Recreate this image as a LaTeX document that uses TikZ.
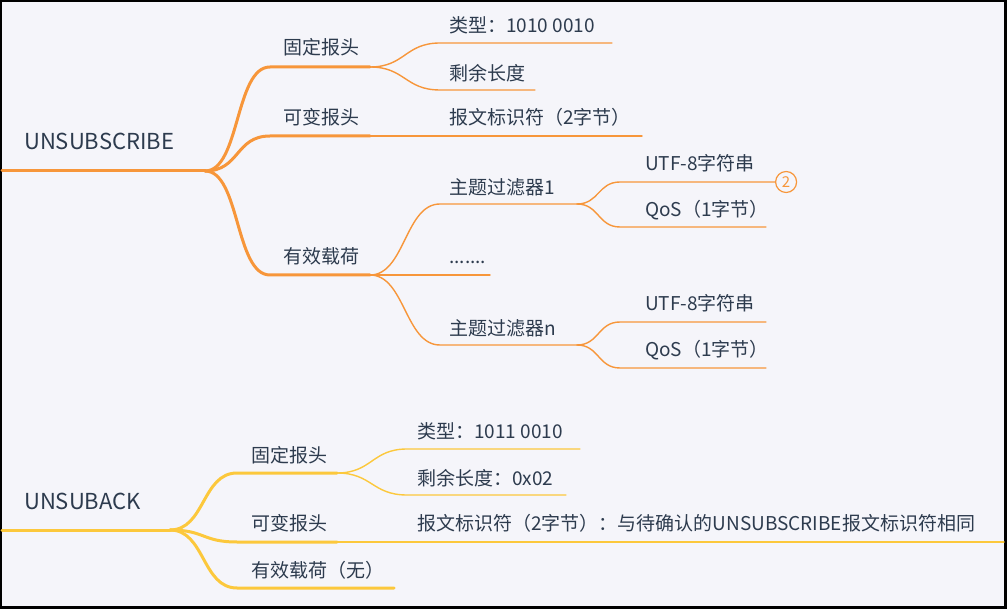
\documentclass[tikz,border=0pt]{standalone}
\usepackage{fontspec}
\setmainfont{Noto Sans CJK SC}
\definecolor{bgc}{HTML}{F5F5FA}
\definecolor{org}{HTML}{F7963A}
\definecolor{ylw}{HTML}{FCC83C}
\definecolor{txt}{HTML}{2D3B4E}
\begin{document}
\begin{tikzpicture}[x=1pt,y=-1pt,
  lbl/.style={anchor=west, inner sep=0pt, text=txt, font=\fontsize{19}{22}\selectfont},
  rootlbl/.style={lbl, font=\fontsize{22}{26}\selectfont},
  thk/.style={line width=3pt},
  thn/.style={line width=1.4pt},
  badge/.style={circle, draw=org, line width=1.2pt, fill=bgc, minimum size=21pt, inner sep=0pt, text=org, font=\fontsize{15}{16}\selectfont}]
\useasboundingbox (0,0) rectangle (1007,609);
\fill[black] (0,0) rectangle (1007,609);
\fill[bgc] (2,2) rectangle (1004,606);

% ---------- UNSUBSCRIBE ----------
\coordinate (R1s) at (2,171); \coordinate (R1e) at (205,171);
\node[rootlbl] (r1) at (24,141) {UNSUBSCRIBE};

\coordinate (A1s) at (270,67);  \coordinate (A1e) at (370,67);
\coordinate (A2s) at (270,136); \coordinate (A2e) at (370,136);
\coordinate (A3s) at (270,275); \coordinate (A3e) at (370,275);
\node[lbl] (a1) at (283,47)  {固定报头};
\node[lbl] (a2) at (283,117) {可变报头};
\node[lbl] (a3) at (283,256) {有效载荷};

\coordinate (B1s) at (440,43);  \coordinate (B1e) at (612,43);
\coordinate (B2s) at (440,90);  \coordinate (B2e) at (535,90);
\coordinate (B3s) at (440,136); \coordinate (B3e) at (642,136);
\coordinate (B4s) at (440,204); \coordinate (B4e) at (577,204);
\coordinate (B5s) at (440,275); \coordinate (B5e) at (490,275);
\coordinate (B6s) at (440,345); \coordinate (B6e) at (577,345);
\node[lbl] (b1) at (449,25)  {类型：1010 0010};
\node[lbl] (b2) at (449,73)  {剩余长度};
\node[lbl] (b3) at (449,117) {报文标识符（2字节）};
\node[lbl] (b4) at (449,187) {主题过滤器1};
\node[lbl] (b5) at (449,262) {.......};
\node[lbl] (b6) at (449,328) {主题过滤器n};

\coordinate (C1s) at (620,182); \coordinate (C1e) at (775,182);
\coordinate (C2s) at (620,227); \coordinate (C2e) at (766,227);
\coordinate (C3s) at (620,322); \coordinate (C3e) at (766,322);
\coordinate (C4s) at (620,368); \coordinate (C4e) at (766,368);
\node[lbl] (c1) at (645,163) {UTF-8字符串};
\node[lbl] (c2) at (645,210) {QoS（1字节）};
\node[lbl] (c3) at (645,303) {UTF-8字符串};
\node[lbl] (c4) at (645,350) {QoS（1字节）};

\begin{scope}[draw=org, line cap=round]
\draw[thk] (R1s) -- (R1e);
\draw[thk] (R1e) .. controls +(35,0) and +(-35,0) .. (A1s) -- (A1e);
\draw[thk] (R1e) .. controls +(35,0) and +(-35,0) .. (A2s) -- (A2e);
\draw[thk] (R1e) .. controls +(35,0) and +(-35,0) .. (A3s) -- (A3e);
\draw[thn] (A1e) .. controls +(35,0) and +(-35,0) .. (B1s) -- (B1e);
\draw[thn] (A1e) .. controls +(35,0) and +(-35,0) .. (B2s) -- (B2e);
\draw[thn] (A2e) -- (B3s) -- (B3e);
\draw[thn] (A3e) .. controls +(35,0) and +(-35,0) .. (B4s) -- (B4e);
\draw[thn] (A3e) -- (B5s) -- (B5e);
\draw[thn] (A3e) .. controls +(35,0) and +(-35,0) .. (B6s) -- (B6e);
\draw[thn] (B4e) .. controls +(22,0) and +(-22,0) .. (C1s) -- (C1e);
\draw[thn] (B4e) .. controls +(22,0) and +(-22,0) .. (C2s) -- (C2e);
\draw[thn] (B6e) .. controls +(22,0) and +(-22,0) .. (C3s) -- (C3e);
\draw[thn] (B6e) .. controls +(22,0) and +(-22,0) .. (C4s) -- (C4e);
\end{scope}
\node[badge, anchor=west] (n2) at (C1e) {2};

% ---------- UNSUBACK ----------
\coordinate (R2s) at (2,530); \coordinate (R2e) at (170,530);
\node[rootlbl] (r2) at (24,501) {UNSUBACK};

\coordinate (D1s) at (237,473); \coordinate (D1e) at (337,473);
\coordinate (D2s) at (237,542); \coordinate (D2e) at (337,542);
\coordinate (D3s) at (237,588); \coordinate (D3e) at (394,588);
\node[lbl] (d1) at (251,455) {固定报头};
\node[lbl] (d2) at (251,523) {可变报头};
\node[lbl] (d3) at (251,570) {有效载荷（无）};

\coordinate (E1s) at (407,449); \coordinate (E1e) at (580,449);
\coordinate (E2s) at (407,495); \coordinate (E2e) at (566,495);
\coordinate (E3s) at (407,542); \coordinate (E3e) at (1004,542);
\node[lbl] (e1) at (417,431) {类型：1011 0010};
\node[lbl] (e2) at (417,478) {剩余长度：0x02};
\node[lbl] (e3) at (417,523) {报文标识符（2字节）：与待确认的UNSUBSCRIBE报文标识符相同};

\begin{scope}[draw=ylw, line cap=round]
\draw[thk] (R2s) -- (R2e);
\draw[thk] (R2e) .. controls +(35,0) and +(-35,0) .. (D1s) -- (D1e);
\draw[thk] (R2e) .. controls +(35,0) and +(-35,0) .. (D2s) -- (D2e);
\draw[thk] (R2e) .. controls +(35,0) and +(-35,0) .. (D3s) -- (D3e);
\draw[thn] (D1e) .. controls +(35,0) and +(-35,0) .. (E1s) -- (E1e);
\draw[thn] (D1e) .. controls +(35,0) and +(-35,0) .. (E2s) -- (E2e);
\draw[thn] (D2e) -- (E3s) -- (E3e);
\end{scope}
\end{tikzpicture}
\end{document}
